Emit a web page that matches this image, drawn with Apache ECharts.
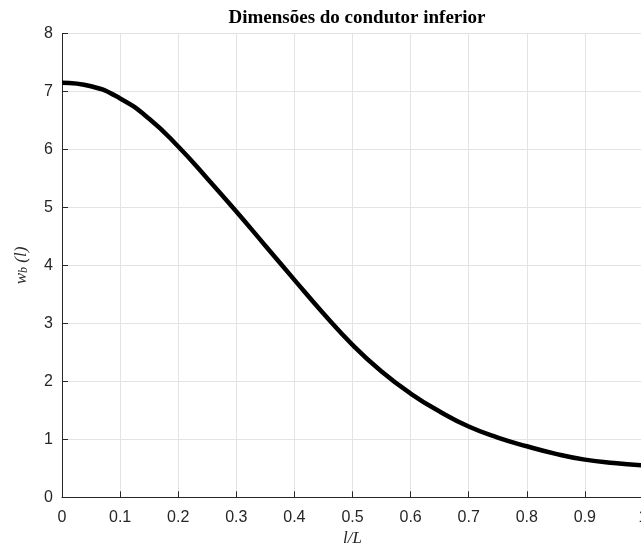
<!DOCTYPE html>
<html>
<head>
<meta charset="utf-8">
<script src="https://cdn.jsdelivr.net/npm/echarts@6/dist/echarts.min.js"></script>
<style>
html,body{margin:0;padding:0;background:#fff;}
#chart{width:641px;height:553px;}
</style>
</head>
<body>
<div id="chart"></div>
<script>
const xValues = [0, 0.05, 0.1, 0.15, 0.2, 0.25, 0.3, 0.35, 0.4, 0.45, 0.5, 0.55, 0.6, 0.65, 0.7, 0.75, 0.8, 0.85, 0.9, 0.95, 1.0];
const wbValues = [7.15, 7.09, 6.88, 6.53, 6.05, 5.50, 4.93, 4.34, 3.75, 3.17, 2.63, 2.17, 1.79, 1.48, 1.22, 1.03, 0.88, 0.75, 0.65, 0.59, 0.55];
const xTicks = [0, 0.1, 0.2, 0.3, 0.4, 0.5, 0.6, 0.7, 0.8, 0.9, 1];
const yTicks = [0, 1, 2, 3, 4, 5, 6, 7, 8];
const titleText = 'Dimensões do condutor inferior';

const seriesData = xValues.map((x, i) => [x, wbValues[i]]);

const chart = echarts.init(document.getElementById('chart'), null, {renderer: 'canvas'});
const tickColor = '#262626';
const gridColor = '#e3e3e3';
chart.setOption({
  backgroundColor: '#fff',
  animation: false,
  title: {
    text: titleText,
    left: 352, top: 4,
    textAlign: 'center',
    textStyle: {fontFamily: 'Liberation Serif', fontWeight: 'bold', fontSize: 19, color: '#000'}
  },
  grid: {left: 62, right: -2, top: 33.5, bottom: 55.7, containLabel: false, outerBoundsMode: 'none'},
  xAxis: {
    type: 'value', min: 0, max: 1, interval: 0.1,
    name: 'l/L', nameLocation: 'middle', nameGap: 33,
    nameTextStyle: {fontFamily: 'Liberation Serif', fontStyle: 'italic', fontSize: 17, color: '#262626'},
    axisLine: {show: true, lineStyle: {color: tickColor, width: 1}},
    axisTick: {show: true, inside: true, length: 6, lineStyle: {color: tickColor}},
    axisLabel: {margin: 12, fontFamily: 'Liberation Sans', fontSize: 16, color: '#262626', hideOverlap: false,
      formatter: v => { const t = xTicks.find(k => Math.abs(k - v) < 1e-9); return t === undefined ? '' : String(t); }},
    splitLine: {show: true, lineStyle: {color: gridColor, width: 1}}
  },
  yAxis: {
    type: 'value', min: 0, max: 8, interval: 1,
    name: '{i|w}{s|b}{i| (l)}', nameLocation: 'middle', nameGap: 32, nameRotate: 90,
    nameTextStyle: {
      color: '#262626',
      rich: {
        i: {fontFamily: 'Liberation Serif', fontStyle: 'italic', fontSize: 17, color: '#262626', verticalAlign: 'bottom', lineHeight: 22},
        s: {fontFamily: 'Liberation Serif', fontStyle: 'italic', fontSize: 12, color: '#262626', verticalAlign: 'bottom', lineHeight: 22}
      }
    },
    axisLine: {show: true, lineStyle: {color: tickColor, width: 1}},
    axisTick: {show: true, inside: true, length: 6, lineStyle: {color: tickColor}},
    axisLabel: {margin: 9, fontFamily: 'Liberation Sans', fontSize: 16, color: '#262626',
      formatter: v => { const t = yTicks.find(k => Math.abs(k - v) < 1e-9); return t === undefined ? '' : String(t); }},
    splitLine: {show: true, lineStyle: {color: gridColor, width: 1}}
  },
  series: [{
    type: 'line',
    data: seriesData,
    smooth: 0.5,
    showSymbol: false,
    lineStyle: {color: '#000', width: 4.5},
    clip: true
  }]
});
</script>
</body>
</html>
